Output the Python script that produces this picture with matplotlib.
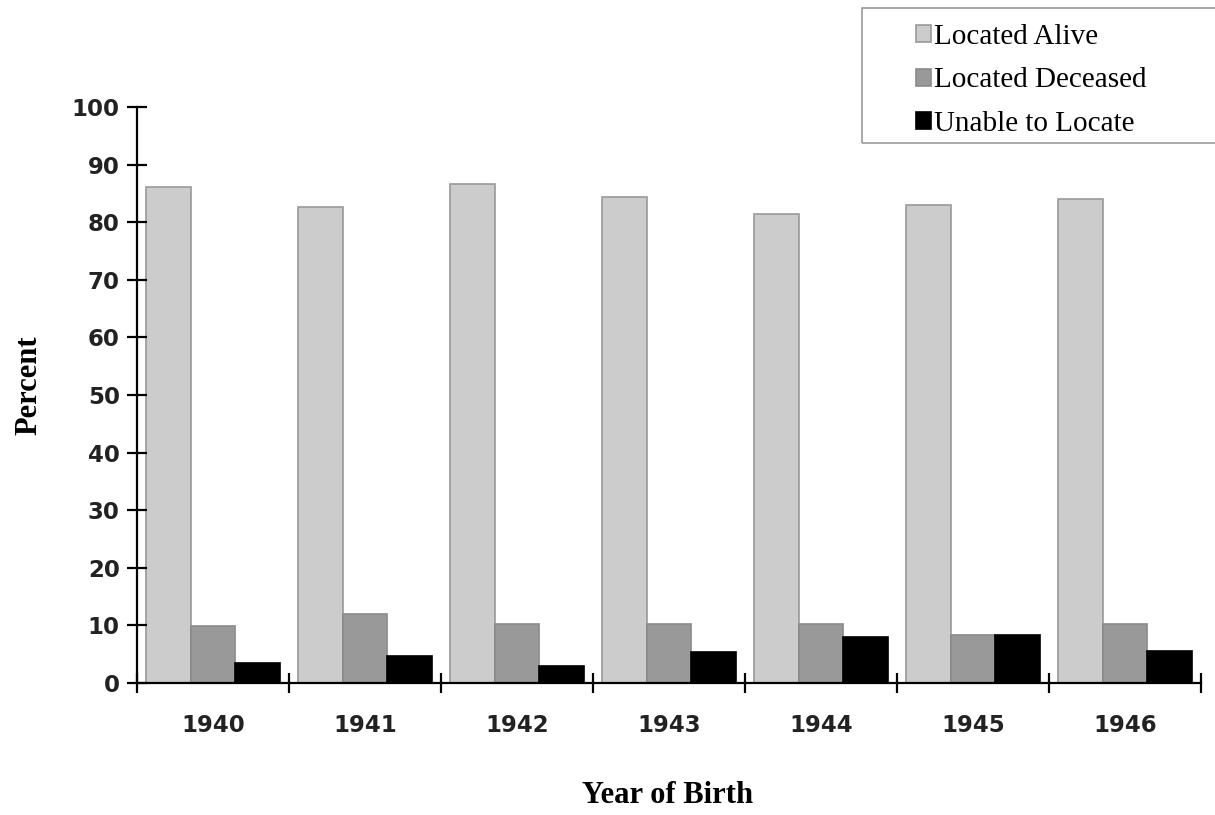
import matplotlib
matplotlib.use("Agg")
import matplotlib.pyplot as plt
from matplotlib.patches import Rectangle
import numpy as np

# values (percent)
years = ["1940", "1941", "1942", "1943", "1944", "1945", "1946"]
located_alive = [86.1, 82.7, 86.6, 84.3, 81.5, 82.9, 84.0]
located_deceased = [9.9, 12.0, 10.2, 10.2, 10.2, 8.4, 10.2]
unable_to_locate = [3.5, 4.7, 2.9, 5.3, 7.9, 8.4, 5.6]

series = [
    ("Located Alive", located_alive, "#cccccc", "#999999"),
    ("Located Deceased", located_deceased, "#999999", "#8a8a8a"),
    ("Unable to Locate", unable_to_locate, "#000000", "#000000"),
]

fig = plt.figure(figsize=(12.15, 8.15), dpi=100)
ax = fig.add_axes([0.1128, 0.162, 0.8757, 0.7067])

x = np.arange(len(years)) + 0.5
w = 0.295
for i, (name, vals, fc, ec) in enumerate(series):
    ax.bar(x + (i - 1) * w, vals, width=w, color=fc, edgecolor=ec,
           linewidth=1.2, label=name)

ax.set_xlim(0, len(years))
ax.set_ylim(0, 100)

for s in ["top", "right"]:
    ax.spines[s].set_visible(False)
for s in ["left", "bottom"]:
    ax.spines[s].set_linewidth(1.6)

# category boundaries as major ticks, year labels at centers
ax.set_xticks(np.arange(len(years) + 1))
ax.set_xticklabels([])
ax.set_xticks(x, minor=True)
ax.set_xticklabels(years, minor=True, fontsize=16.5, fontweight="bold",
                   family="DejaVu Sans", color="#222222")
ax.tick_params(axis="x", which="major", direction="inout", length=15, width=1.6)
ax.tick_params(axis="x", which="minor", length=0, pad=22)

ax.set_yticks(range(0, 101, 10))
ax.tick_params(axis="y", direction="inout", length=15, width=1.6, pad=5)
for lab in ax.get_yticklabels():
    lab.set_fontsize(16.5)
    lab.set_fontweight("bold")
    lab.set_family("DejaVu Sans")
    lab.set_color("#222222")

ax.set_ylabel("Percent", fontsize=22, fontweight="bold", family="Liberation Serif")
ax.yaxis.set_label_coords(-0.088, 0.517)
ax.set_xlabel("Year of Birth", fontsize=22, fontweight="bold", family="Liberation Serif")
ax.xaxis.set_label_coords(0.499, -0.170)

# legend box (runs off the right edge like the original)
fig.patches.append(Rectangle((0.7095, 0.8245), 0.30, 0.1656, transform=fig.transFigure,
                             facecolor="none", edgecolor="#999999", linewidth=1.2))
leg = ax.legend(loc="upper left", bbox_to_anchor=(0.744, 0.985),
                bbox_transform=fig.transFigure, frameon=False,
                prop={"family": "Liberation Serif", "size": 21},
                handlelength=0.52, handleheight=0.52, handletextpad=0.1,
                labelspacing=0.6, borderaxespad=0)

fig.savefig("out.png", dpi=100)
